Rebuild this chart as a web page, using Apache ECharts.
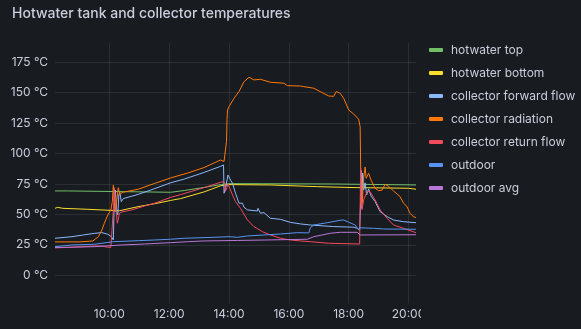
<!DOCTYPE html>
<html><head><meta charset="utf-8">
<script src="https://cdn.jsdelivr.net/npm/echarts@6/dist/echarts.min.js"></script>
<style>html,body{margin:0;padding:0;background:#181b1f;}#c{width:581px;height:329px;}</style>
</head><body><div id="c"></div>
<script>
const seriesNames = ["hotwater top","hotwater bottom","collector forward flow","collector radiation","collector return flow","outdoor","outdoor avg"];
const seriesColors = ["#73BF69","#FADE2A","#8AB8FF","#FF780A","#F2495C","#5794F2","#B877D9"];

const hotwaterTop = [["08:11",69.3],["08:36",69.3],["08:37",68.2],["12:03",68.2],["12:30",69.6],["13:10",72.2],["13:45",74.6],["14:00",75.3],["15:10",75.2],["17:30",75.0],["17:31",74.2],["20:15",74.2]];

const hotwaterBottom = [["08:11",55.0],["08:15",55.0],["08:16",55.8],["08:18",55.0],["08:27",55.0],["08:28",54.2],["09:17",54.2],["09:18",53.1],["10:20",53.0],["10:58",56.4],["11:31",58.8],["12:03",61.5],["12:23",63.0],["13:10",68.5],["13:43",73.5],["14:00",74.5],["15:23",74.2],["15:24",72.8],["16:57",72.8],["16:58",72.0],["18:17",72.0],["18:18",71.5],["20:00",71.5],["20:01",70.7],["20:15",70.7]];

const collectorForward = [["08:11",30.4],["08:45",31.7],["09:08",33.1],["09:31",34.5],["09:45",35.0],["09:57",33.7],["10:04",31.7],["10:08",29.0],["10:10",62.0],["10:12",70.0],["10:15",52.0],["10:17",49.5],["10:19",66.0],["10:21",68.0],["10:24",60.5],["10:28",63.0],["10:58",66.5],["11:23",70.0],["12:03",76.0],["12:30",79.0],["13:10",84.5],["13:43",89.5],["13:49",90.6],["13:50",67.4],["13:53",72.0],["13:58",82.4],["14:03",78.3],["14:07",75.6],["14:13",67.4],["14:20",59.2],["14:27",59.2],["14:30",55.9],["14:37",53.7],["14:57",52.8],["14:58",55.0],["15:03",51.0],["15:10",51.5],["15:23",46.8],["15:43",46.0],["16:03",43.5],["16:23",42.2],["16:43",41.3],["17:30",40.0],["18:10",39.5],["18:17",38.6],["18:22",37.2],["18:24",60.0],["18:25",86.0],["18:26",55.0],["18:28",84.0],["18:30",70.0],["18:33",76.0],["18:36",66.0],["18:40",71.0],["18:45",65.0],["18:53",60.5],["19:03",52.3],["19:17",48.2],["19:30",45.4],["19:50",44.0],["20:15",43.2]];

const collectorRadiation = [["08:11",27.4],["09:01",27.4],["09:02",28.2],["09:27",28.2],["09:31",29.0],["09:38",31.7],["09:45",37.2],["09:50",42.7],["09:57",49.6],["10:03",53.7],["10:06",60.5],["10:08",74.0],["10:10",60.0],["10:12",52.0],["10:15",62.0],["10:18",72.0],["10:21",66.0],["10:25",68.0],["10:28",66.5],["10:58",70.7],["11:31",75.5],["12:03",80.0],["12:37",84.0],["13:10",88.5],["13:43",94.7],["13:50",93.5],["13:53",92.0],["13:55",110.0],["13:56",128.0],["13:57",135.8],["14:00",138.5],["14:10",145.4],["14:20",151.0],["14:30",159.0],["14:40",162.7],["14:50",160.5],["15:03",161.0],["15:23",158.6],["15:50",157.8],["15:57",155.8],["16:23",155.5],["16:30",155.0],["16:50",153.7],["17:03",150.9],["17:20",147.3],["17:30",147.0],["17:35",151.0],["17:43",149.5],["17:50",145.4],["18:00",135.8],["18:10",132.5],["18:20",128.2],["18:23",122.0],["18:25",60.0],["18:27",58.0],["18:30",80.0],["18:33",89.0],["18:35",79.7],["18:40",83.8],["18:45",78.0],["18:53",71.5],["19:00",69.5],["19:07",70.0],["19:13",74.8],["19:20",73.0],["19:30",69.3],["19:43",64.6],["19:50",59.2],["19:57",56.4],["20:03",51.0],["20:10",48.0],["20:15",47.5]];

const collectorReturn = [["08:11",22.5],["08:45",23.0],["09:31",24.0],["09:45",24.0],["09:57",23.0],["10:03",23.0],["10:07",22.2],["10:09",60.0],["10:10",72.0],["10:13",55.0],["10:16",42.7],["10:18",46.0],["10:20",51.0],["10:25",52.0],["10:45",53.7],["11:11",57.0],["11:31",59.2],["12:03",64.0],["12:23",66.3],["13:10",72.0],["13:43",76.4],["13:50",76.9],["13:53",69.0],["13:56",72.0],["13:58",75.0],["14:03",70.0],["14:07",66.0],["14:13",60.5],["14:23",55.0],["14:37",45.4],["14:50",40.0],["15:07",35.8],["15:23",33.1],["15:43",30.4],["16:03",29.0],["16:23",28.2],["16:43",27.6],["17:20",26.3],["18:22",25.7],["18:24",88.0],["18:25",60.0],["18:27",54.0],["18:30",62.0],["18:37",68.7],["18:43",68.7],["18:53",61.9],["19:03",53.7],["19:17",46.8],["19:30",41.3],["19:50",38.6],["20:15",35.0]];

const outdoor = [["08:11",23.5],["08:45",24.9],["09:31",25.5],["10:08",27.6],["10:58",28.4],["11:31",29.0],["12:03",29.6],["12:30",30.4],["13:30",31.2],["14:00",31.7],["14:17",31.2],["14:37",32.3],["15:10",33.1],["15:43",33.9],["16:17",35.0],["16:40",34.8],["16:43",39.0],["16:50",41.3],["17:17",43.2],["17:43",45.2],["17:50",45.4],["18:00",43.6],["18:13",41.3],["18:20",37.2],["18:23",39.0],["18:27",39.3],["18:50",38.6],["19:10",38.0],["20:15",37.8]];

const outdoorAvg = [["08:11",22.8],["09:31",23.5],["10:25",24.9],["11:11",25.7],["12:03",26.8],["12:37",27.6],["13:10",28.2],["14:17",28.6],["15:17",29.0],["16:37",29.6],["16:50",31.7],["16:53",33.1],["17:23",34.5],["17:43",35.3],["18:17",35.3],["18:23",33.1],["20:15",33.3]];

const yTicks = [0,25,50,75,100,125,150,175];
const xTicks = ["10:00","12:00","14:00","16:00","18:00","20:00"];
const xRange = ["08:11","20:15"];
const yRange = [-23.2, 190.6];

const toMin = s => { const p = s.split(":"); return (+p[0])*60 + (+p[1]); };
const fmt = m => { const h = Math.floor(m/60), mm = Math.round(m%60); return String(h).padStart(2,"0")+":"+String(mm).padStart(2,"0"); };
const allData = [hotwaterTop, hotwaterBottom, collectorForward, collectorRadiation, collectorReturn, outdoor, outdoorAvg];

const txt = "#ccccdc";
const gridCol = "rgba(240,250,255,0.09)";
const font = "Inter, 'Noto Sans', sans-serif";

const chart = echarts.init(document.getElementById("c"), null, {renderer: "canvas"});
chart.setOption({
  backgroundColor: "#181b1f",
  animation: false,
  title: { text: "Hotwater tank and collector temperatures", left: 7, top: 2,
    textStyle: { color: txt, fontSize: 14, fontWeight: 500, fontFamily: font } },
  legend: {
    orient: "vertical", left: 424, top: 38, icon: "roundRect", itemWidth: 14, itemHeight: 4,
    itemGap: 9, data: seriesNames,
    textStyle: { color: txt, fontSize: 12, fontFamily: font, lineHeight: 14, padding: [0,0,0,3] }
  },
  grid: { left: 55, right: 165, top: 43.3, bottom: 25.5, containLabel: false },
  xAxis: {
    type: "value", min: toMin(xRange[0]), max: toMin(xRange[1]),
    axisLine: { show: false },
    axisTick: { show: false, customValues: xTicks.map(toMin) },
    axisLabel: { customValues: xTicks.map(toMin), formatter: v => fmt(v), color: txt, fontSize: 12, fontFamily: font, margin: 5 },
    splitLine: { show: true, lineStyle: { color: gridCol, width: 1 } }
  },
  yAxis: {
    type: "value", min: yRange[0], max: yRange[1],
    axisLine: { show: false },
    axisTick: { show: false, customValues: yTicks },
    axisLabel: { customValues: yTicks, formatter: v => v + " °C", color: txt, fontSize: 12, fontFamily: font, margin: 7 },
    splitLine: { show: true, lineStyle: { color: gridCol, width: 1 } }
  },
  graphic: [{ type: "rect", shape: { x: 421, y: 304, width: 8, height: 20 }, style: { fill: "#181b1f" }, z: 100 }],
  series: allData.map((d, i) => ({
    name: seriesNames[i], type: "line", showSymbol: false, symbol: "none",
    color: seriesColors[i], lineStyle: { width: 1, color: seriesColors[i] },
    data: d.map(p => [toMin(p[0]), p[1]])
  }))
});
</script></body></html>
